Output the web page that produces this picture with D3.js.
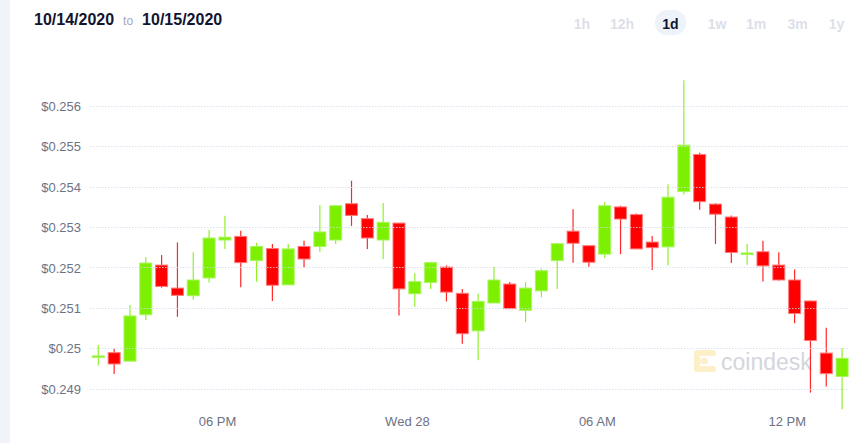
<!DOCTYPE html>
<html>
<head>
<meta charset="utf-8">
<script src="https://cdn.jsdelivr.net/npm/d3@7"></script>
<style>
  body { margin: 0; background: #fff; overflow: hidden; }
  svg { display: block; font-family: "Liberation Sans", Arial, sans-serif; }
</style>
</head>
<body>
<svg id="chart" width="866" height="443"></svg>
<script>
// 30 minute candles, open time (UTC)
const times = [
  "2020-10-27T14:00", "2020-10-27T14:30", "2020-10-27T15:00", "2020-10-27T15:30",
  "2020-10-27T16:00", "2020-10-27T16:30", "2020-10-27T17:00", "2020-10-27T17:30",
  "2020-10-27T18:00", "2020-10-27T18:30", "2020-10-27T19:00", "2020-10-27T19:30",
  "2020-10-27T20:00", "2020-10-27T20:30", "2020-10-27T21:00", "2020-10-27T21:30",
  "2020-10-27T22:00", "2020-10-27T22:30", "2020-10-27T23:00", "2020-10-27T23:30",
  "2020-10-28T00:00", "2020-10-28T00:30", "2020-10-28T01:00", "2020-10-28T01:30",
  "2020-10-28T02:00", "2020-10-28T02:30", "2020-10-28T03:00", "2020-10-28T03:30",
  "2020-10-28T04:00", "2020-10-28T04:30", "2020-10-28T05:00", "2020-10-28T05:30",
  "2020-10-28T06:00", "2020-10-28T06:30", "2020-10-28T07:00", "2020-10-28T07:30",
  "2020-10-28T08:00", "2020-10-28T08:30", "2020-10-28T09:00", "2020-10-28T09:30",
  "2020-10-28T10:00", "2020-10-28T10:30", "2020-10-28T11:00", "2020-10-28T11:30",
  "2020-10-28T12:00", "2020-10-28T12:30", "2020-10-28T13:00", "2020-10-28T13:30"
];
const opens = [
  0.24980, 0.24989, 0.24968, 0.25083, 0.25206, 0.25149, 0.25130, 0.25174,
  0.25268, 0.25277, 0.25217, 0.25247, 0.25157, 0.25252, 0.25252, 0.25268,
  0.25358, 0.25321, 0.25268, 0.25310, 0.25135, 0.25163, 0.25201, 0.25136,
  0.25043, 0.25112, 0.25159, 0.25094, 0.25142, 0.25217, 0.25290, 0.25254,
  0.25233, 0.25350, 0.25331, 0.25263, 0.25251, 0.25388, 0.25480, 0.25357,
  0.25325, 0.25235, 0.25239, 0.25206, 0.25169, 0.25117, 0.24988, 0.24930
];
const highs = [
  0.25008, 0.24999, 0.25107, 0.25226, 0.25231, 0.25262, 0.25238, 0.25293,
  0.25328, 0.25291, 0.25261, 0.25258, 0.25258, 0.25266, 0.25355, 0.25355,
  0.25415, 0.25330, 0.25360, 0.25310, 0.25186, 0.25214, 0.25205, 0.25147,
  0.25135, 0.25202, 0.25164, 0.25164, 0.25197, 0.25261, 0.25344, 0.25254,
  0.25362, 0.25353, 0.25334, 0.25278, 0.25406, 0.25664, 0.25484, 0.25359,
  0.25329, 0.25258, 0.25266, 0.25238, 0.25195, 0.25118, 0.25051, 0.25000
];
const lows = [
  0.24957, 0.24936, 0.24968, 0.25070, 0.25150, 0.25078, 0.25120, 0.25163,
  0.25246, 0.25151, 0.25165, 0.25117, 0.25157, 0.25200, 0.25239, 0.25258,
  0.25303, 0.25246, 0.25221, 0.25081, 0.25103, 0.25147, 0.25116, 0.25011,
  0.24970, 0.25112, 0.25098, 0.25065, 0.25126, 0.25147, 0.25212, 0.25202,
  0.25223, 0.25233, 0.25246, 0.25194, 0.25205, 0.25381, 0.25343, 0.25258,
  0.25211, 0.25207, 0.25165, 0.25168, 0.25062, 0.24890, 0.24905, 0.24849
];
const closes = [
  0.24981, 0.24961, 0.25080, 0.25211, 0.25153, 0.25131, 0.25169, 0.25273,
  0.25275, 0.25212, 0.25252, 0.25156, 0.25246, 0.25221, 0.25288, 0.25353,
  0.25329, 0.25273, 0.25312, 0.25147, 0.25165, 0.25212, 0.25139, 0.25036,
  0.25116, 0.25169, 0.25098, 0.25149, 0.25192, 0.25259, 0.25260, 0.25213,
  0.25353, 0.25320, 0.25246, 0.25249, 0.25374, 0.25503, 0.25363, 0.25332,
  0.25237, 0.25236, 0.25204, 0.25169, 0.25086, 0.25019, 0.24937, 0.24975
];
const yTicks = [0.249, 0.250, 0.251, 0.252, 0.253, 0.254, 0.255, 0.256];
const rangeButtons = ["1h", "12h", "1d", "1w", "1m", "3m", "1y"];
const selectedRange = "1d";
const dateFrom = "10/14/2020", dateTo = "10/15/2020";

const parseTime = d3.utcParse("%Y-%m-%dT%H:%M");
const candles = times.map((t, i) => ({
  time: parseTime(t),
  open: opens[i], high: highs[i], low: lows[i], close: closes[i]
}));

const svg = d3.select('#chart');
const green = '#7def00', red = '#ff0000';

// left grey strip
svg.append('rect').attr('x', 0).attr('y', 0).attr('width', 10).attr('height', 443).attr('fill', '#f0f3f8');

// header
const header = svg.append('text').attr('x', 34).attr('y', 25);
header.append('tspan').attr('font-size', 16).attr('font-weight', 'bold').attr('fill', '#12152e').text(dateFrom);
header.append('tspan').attr('dx', 9).attr('font-size', 12).attr('fill', '#a3a7ba').text('to');
header.append('tspan').attr('dx', 9).attr('font-size', 16).attr('font-weight', 'bold').attr('fill', '#12152e').text(dateTo);

const btnCenters = [582, 622, 670.5, 717, 756, 797.5, 836.5];
const btns = svg.append('g').selectAll('g').data(rangeButtons).enter().append('g')
  .attr('transform', (d, i) => `translate(${btnCenters[i]}, 0)`);
btns.filter(d => d === selectedRange).append('rect')
  .attr('x', -15.5).attr('y', 10).attr('width', 31).attr('height', 25).attr('rx', 12)
  .attr('fill', '#eef2f9');
btns.append('text')
  .attr('text-anchor', 'middle').attr('y', 29)
  .attr('font-size', 14).attr('font-weight', 'bold')
  .attr('fill', d => d === selectedRange ? '#12152e' : '#dcdfe9')
  .text(d => d);

// scales
const xScale = d3.scaleUtc()
  .domain([parseTime("2020-10-27T14:00"), parseTime("2020-10-28T14:00")])
  .range([90.4, 850]);
const yScale = d3.scaleLinear()
  .domain([0.249, 0.256])
  .range([388.6, 106]);

const halfHour = 30 * 60 * 1000;
const step = xScale(new Date(+xScale.domain()[0] + halfHour)) - xScale.range()[0];
const bodyW = 12;
const cx = d => xScale(new Date(+d.time + halfHour / 2));

// watermark
const mark = svg.append('g').attr('transform', 'translate(693, 350)');
mark.append('path')
  .attr('d', 'M20,3 H4 V19 H20 M10,11 H12')
  .attr('fill', 'none').attr('stroke', '#fdefc8').attr('stroke-width', 6)
  .attr('stroke-linecap', 'round').attr('stroke-linejoin', 'round');
svg.append('text').attr('x', 721).attr('y', 370)
  .attr('font-size', 23).attr('fill', '#d3d6dd').text('coindesk');

// y axis labels
const yAxis = d3.axisLeft(yScale).tickValues(yTicks).tickSize(0).tickPadding(0)
  .tickFormat(d => '$' + d3.format('.3~f')(d));
svg.append('g')
  .classed('axis axis--y', true)
  .attr('transform', 'translate(81, 0)')
  .call(yAxis)
  .call(g => g.select('.domain').remove())
  .selectAll('text')
    .attr('font-size', 13).attr('font-family', '"Liberation Sans", Arial, sans-serif')
    .attr('fill', '#6d7284').attr('dy', '0.35em');

// x axis labels
const xAxis = d3.axisBottom(xScale).ticks(d3.utcHour.every(6)).tickSize(0).tickPadding(0)
  .tickFormat(d => d.getUTCHours() === 0 ? d3.utcFormat('%a %d')(d) : d3.utcFormat('%I %p')(d));
svg.append('g')
  .classed('axis axis--x', true)
  .attr('transform', 'translate(0, 417)')
  .call(xAxis)
  .call(g => g.select('.domain').remove())
  .selectAll('text')
    .attr('font-size', 13).attr('font-family', '"Liberation Sans", Arial, sans-serif')
    .attr('fill', '#6d7284').attr('dy', '0.71em');

// candles
const candleG = svg.append('g').classed('candles', true);
const c = candleG.selectAll('g').data(candles).enter().append('g');
c.append('line')
  .attr('x1', cx).attr('x2', cx)
  .attr('y1', d => yScale(d.high)).attr('y2', d => yScale(d.low))
  .attr('stroke', d => d.close >= d.open ? green : red)
  .attr('stroke-opacity', 0.85)
  .attr('stroke-width', 1.2);
c.append('rect')
  .attr('x', d => cx(d) - bodyW / 2)
  .attr('width', bodyW)
  .attr('y', d => yScale(Math.max(d.open, d.close)))
  .attr('height', d => Math.max(1.5, Math.abs(yScale(d.open) - yScale(d.close))))
  .attr('fill', d => d.close >= d.open ? green : red)
  .attr('stroke', d => d.close >= d.open ? '#a9f55e' : '#ff7a7a')
  .attr('stroke-width', 1);

// grid lines (drawn over candles, dotted)
svg.append('g').classed('grid', true)
  .selectAll('line').data(yTicks).enter().append('line')
    .attr('x1', 90).attr('x2', 849)
    .attr('y1', d => Math.round(yScale(d)) + 0.5).attr('y2', d => Math.round(yScale(d)) + 0.5)
    .attr('stroke', '#d4dbee').attr('stroke-opacity', 0.8)
    .attr('stroke-dasharray', '1.5,1.5');
</script>
</body>
</html>
